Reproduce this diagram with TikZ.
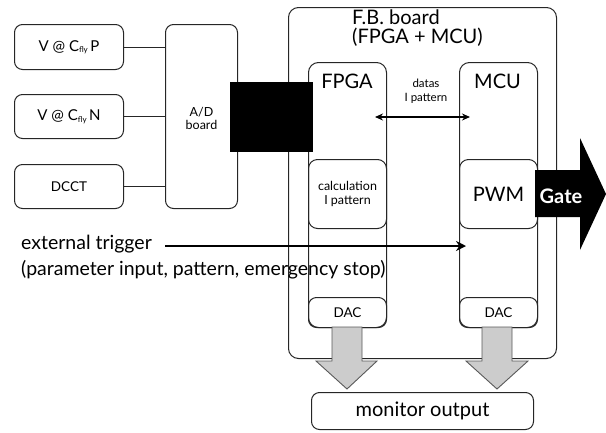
\documentclass[tikz,border=0pt]{standalone}
\usepackage{fontspec}
\setmainfont{Lato}
\usetikzlibrary{arrows.meta}
\begin{document}
\begin{tikzpicture}[x=1pt,y=-1pt,
  box/.style={draw=black!85,line width=1pt,rounded corners=8pt,inner sep=0pt,anchor=north west},
  lbl/.style={inner sep=0pt,align=center},
  fs/.style={font=\fontsize{#1}{#1}\selectfont},
  greyarrow/.style={draw=black!65,fill=black!20,line width=0.9pt},
  conn/.style={draw=black!85,line width=1pt},
]
\useasboundingbox (0,0) rectangle (606,432);
% left boxes
\node[box,minimum width=109pt,minimum height=45pt] (p) at (14,24) {};
\node[box,minimum width=109pt,minimum height=44pt] (n) at (14,94) {};
\node[box,minimum width=109pt,minimum height=44pt] (dcct) at (14,164) {};
\node[lbl,fs=15] (pt) at (p.center) {V @ C\raisebox{-1.5pt}{\fontsize{8}{8}\selectfont fly}\,P};
\node[lbl,fs=15] (nt) at (n.center) {V @ C\raisebox{-1.5pt}{\fontsize{8}{8}\selectfont fly}\,N};
\node[lbl,fs=13.5] (dt) at (dcct.center) {DCCT};
% A/D board
\node[box,minimum width=72pt,minimum height=184pt] (ad) at (165,24) {};
\node[lbl,fs=12.5,yshift=-2pt] (adt) at (ad.center) {A/D\\[0pt]board};
\draw[conn] (p.east) -- (ad.west |- p.east);
\draw[conn] (n.east) -- (ad.west |- n.east);
\draw[conn] (dcct.east) -- (ad.west |- dcct.east);
% F.B. board
\node[box,rounded corners=10pt,minimum width=268pt,minimum height=351pt] (fb) at (288,7) {};
\node[lbl,fs=20,align=left,anchor=north west] (fbt) at (352,10) {F.B. board\\[-1pt](FPGA + MCU)};
% FPGA and MCU
\node[box,rounded corners=10pt,minimum width=78pt,minimum height=265pt] (fpga) at (308,62) {};
\node[box,rounded corners=10pt,minimum width=78pt,minimum height=265pt] (mcu) at (459,62) {};
\node[lbl,fs=20] (fpgat) at (347,81) {FPGA};
\node[lbl,fs=20] (mcut) at (497.5,81) {MCU};
\node[box,rounded corners=9pt,minimum width=78pt,minimum height=69pt] (calc) at (308,159) {};
\node[lbl,fs=12.5] (calct) at (calc.center) {calculation\\[1pt]I pattern};
\node[box,rounded corners=9pt,minimum width=78pt,minimum height=69pt] (pwm) at (459,159) {};
\node[lbl,fs=20] (pwmt) at (pwm.center) {PWM};
\node[box,rounded corners=8pt,minimum width=78pt,minimum height=30pt] (dac1) at (308,297) {};
\node[lbl,fs=13.5] (dac1t) at (dac1.center) {DAC};
\node[box,rounded corners=8pt,minimum width=78pt,minimum height=30pt] (dac2) at (459,297) {};
\node[lbl,fs=13.5] (dac2t) at (dac2.center) {DAC};
% datas arrow
\node[lbl,fs=11.5] (datat) at (426,91) {datas\\[2pt]I pattern};
\coordinate (d1) at (375,117);
\coordinate (d2) at (470,117);
\draw[line width=2pt,{Stealth[length=8pt,width=7pt]}-{Stealth[length=8pt,width=7pt]}] (d1) -- (d2);
% monitor output
\node[box,minimum width=222pt,minimum height=37pt] (mon) at (311,392) {};
\node[lbl,fs=20] (mont) at (mon.center) {monitor output};
% grey arrows
\draw[greyarrow] (332,327) -- (362,327) -- (362,361) -- (377,361) -- (347,389) -- (316,361) -- (332,361) -- cycle;
\draw[greyarrow] (482,327) -- (512,327) -- (512,361) -- (528,361) -- (497,389) -- (466,361) -- (482,361) -- cycle;
% black block
\fill (230,82) rectangle (313,152);
% Gate arrow
\fill (535,170) -- (580,170) -- (580,138) -- (606,194) -- (580,250) -- (580,217) -- (535,217) -- cycle;
\node[lbl,text=white,font=\bfseries\fontsize{20}{20}\selectfont] (gate) at (561,196) {Gate};
% external trigger
\node[lbl,fs=19.5,anchor=west] (ext1) at (21,244) {external trigger};
\node[lbl,fs=19.5,anchor=west] (ext2) at (21,270) {(parameter input, pattern, emergency stop)};
\coordinate (e1) at (165,246);
\coordinate (e2) at (466,246);
\draw[line width=2.8pt,-{Stealth[length=10pt,width=10pt]}] (e1) -- (e2);
\end{tikzpicture}
\end{document}
